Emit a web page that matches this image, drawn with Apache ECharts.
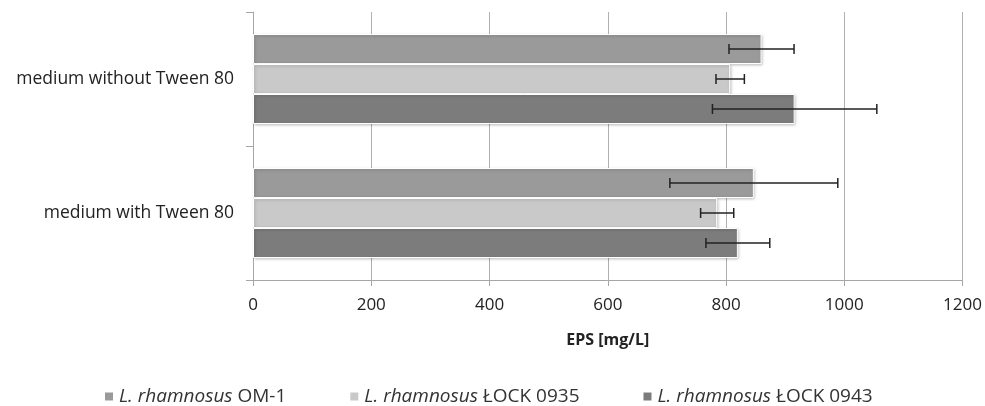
<!DOCTYPE html>
<html>
<head>
<meta charset="utf-8">
<script src="https://cdn.jsdelivr.net/npm/echarts@6/dist/echarts.min.js"></script>
<style>
  html, body { margin: 0; padding: 0; background: #fff; }
  #chart { width: 985px; height: 406px; }
</style>
</head>
<body>
<div id="chart"></div>
<script>
// categories, bottom to top
const categories = ['medium with Tween 80', 'medium without Tween 80'];
const seriesNames = ['L. rhamnosus OM-1', 'L. rhamnosus ŁOCK 0935', 'L. rhamnosus ŁOCK 0943'];
// EPS means [mg/L]
const valOM1 = [847, 860];
const val0935 = [785, 807];
const val0943 = [820, 916];
// error bar half-widths
const errOM1 = [142, 55];
const err0935 = [28, 24];
const err0943 = [54, 139];

const colors = ['#999a99', '#c8c9c8', '#7c7c7c'];
const barW = 30;
const font = 'Open Sans';

const chart = echarts.init(document.getElementById('chart'));

const values = [valOM1, val0935, val0943];
const errs = [errOM1, err0935, err0943];

const barSeries = values.map(function (v, i) {
  return {
    name: seriesNames[i],
    type: 'bar',
    data: v,
    barWidth: barW,
    barGap: 0,
    itemStyle: {
      color: colors[i],
      borderColor: '#fff',
      borderWidth: 1,
      shadowColor: 'rgba(0,0,0,0.25)',
      shadowBlur: 3,
      shadowOffsetX: 1,
      shadowOffsetY: 1
    },
    z: 2
  };
});

// error bars drawn on top of the bars
const errSeries = values.map(function (v, i) {
  return {
    type: 'custom',
    name: seriesNames[i] + ' err',
    data: v.map(function (m, k) { return [k, m - errs[i][k], m + errs[i][k]]; }),
    encode: { y: 0, x: [1, 2] },
    z: 5,
    silent: true,
    renderItem: function (params, api) {
      const lo = api.coord([api.value(1), api.value(0)]);
      const hi = api.coord([api.value(2), api.value(0)]);
      const y = lo[1] + (i - 1) * barW;
      const cap = 5;
      const st = { stroke: '#222', lineWidth: 1.5 };
      return {
        type: 'group',
        children: [
          { type: 'line', shape: { x1: lo[0], y1: y, x2: hi[0], y2: y }, style: st },
          { type: 'line', shape: { x1: lo[0], y1: y - cap, x2: lo[0], y2: y + cap }, style: st },
          { type: 'line', shape: { x1: hi[0], y1: y - cap, x2: hi[0], y2: y + cap }, style: st }
        ]
      };
    }
  };
});

const option = {
  animation: false,
  textStyle: { fontFamily: font },
  grid: { left: 253, right: 20, top: 12, bottom: 126 },
  legend: {
    data: seriesNames,
    top: 387,
    left: 103,
    padding: 0,
    icon: 'rect',
    itemWidth: 10,
    itemHeight: 10,
    itemGap: 62,
    formatter: function (name) {
      return name.replace('L. rhamnosus', '{i|L. rhamnosus}');
    },
    textStyle: {
      color: '#333',
      fontSize: 19,
      fontFamily: font,
      rich: { i: { fontStyle: 'italic', fontSize: 19, color: '#333', fontFamily: font } }
    }
  },
  xAxis: {
    type: 'value',
    min: 0,
    max: 1200,
    interval: 200,
    name: 'EPS [mg/L]',
    nameLocation: 'middle',
    nameGap: 52,
    nameTextStyle: { fontWeight: 'bold', fontSize: 16, color: '#222' },
    axisLine: { show: true, lineStyle: { color: '#a6a6a6' } },
    axisTick: { show: true, length: 6, lineStyle: { color: '#a6a6a6' } },
    axisLabel: { fontSize: 17, color: '#222', margin: 17, formatter: function (v) { return String(v); } },
    splitLine: { show: true, lineStyle: { color: '#b0b0b0', width: 1 } }
  },
  yAxis: {
    type: 'category',
    data: categories,
    axisLine: { show: true, lineStyle: { color: '#a6a6a6' } },
    axisTick: { show: true, length: 7, lineStyle: { color: '#a6a6a6' } },
    axisLabel: { fontSize: 17.5, color: '#222', margin: 19 }
  },
  series: barSeries.concat(errSeries)
};

chart.setOption(option);
window.addEventListener('resize', function () { chart.resize(); });
</script>
</body>
</html>
